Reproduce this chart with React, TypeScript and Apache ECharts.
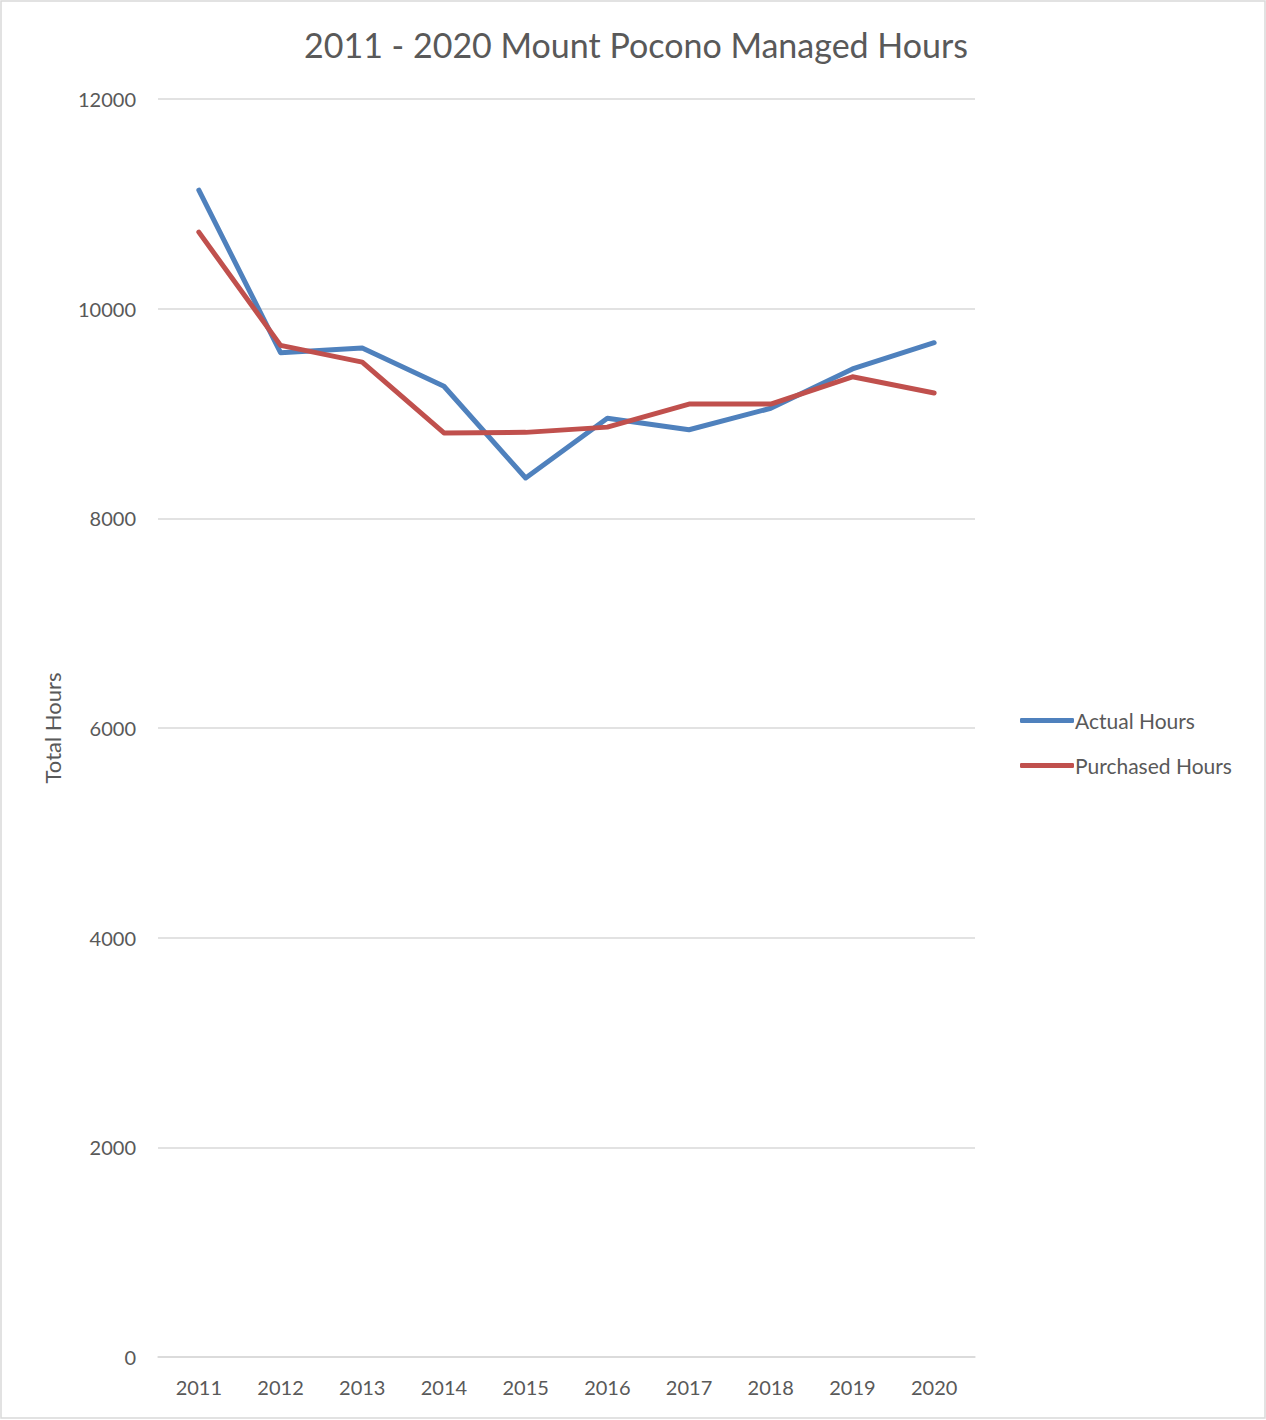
import React, { useEffect, useRef } from "react";
import * as echarts from "echarts";

const years = ["2011", "2012", "2013", "2014", "2015", "2016", "2017", "2018", "2019", "2020"];
const actualHours = [11130, 9580, 9625, 9260, 8385, 8955, 8845, 9050, 9425, 9675];
const purchasedHours = [10730, 9650, 9490, 8815, 8820, 8870, 9090, 9090, 9350, 9195];
const yTicks = { min: 0, max: 12000, interval: 2000 };

const FONT = "Lato, 'Open Sans', sans-serif";
const TEXT = "#595959";

export default function App() {
  const ref = useRef<HTMLDivElement>(null);
  useEffect(() => {
    if (!ref.current) return;
    const chart = echarts.init(ref.current, null, { renderer: "svg" });
    chart.setOption({
      animation: false,
      backgroundColor: "#ffffff",
      textStyle: { fontFamily: FONT },
      title: {
        text: "2011 - 2020 Mount Pocono Managed Hours",
        left: 631,
        textAlign: "center",
        top: 22,
        textStyle: { fontFamily: FONT, fontSize: 34, fontWeight: "normal", color: TEXT },
      },
      graphic: [
        {
          type: "rect",
          shape: { x: 1, y: 1, width: 1264, height: 1417 },
          style: { fill: "none", stroke: "#D9D9D9", lineWidth: 1.5 },
          silent: true,
        },
      ],
      legend: {
        orient: "vertical",
        left: 1015,
        top: 705,
        itemWidth: 54,
        itemHeight: 5,
        itemGap: 24,
        icon: "roundRect",
        textStyle: { fontFamily: FONT, fontSize: 21, color: TEXT, padding: [0, 0, 0, -4] },
        data: ["Actual Hours", "Purchased Hours"],
      },
      grid: { left: 158, right: 291, top: 99, bottom: 63, containLabel: false },
      xAxis: {
        type: "category",
        data: years,
        boundaryGap: true,
        axisLine: { show: true, lineStyle: { color: "#D9D9D9", width: 1.5 } },
        axisTick: { show: false },
        axisLabel: { fontFamily: FONT, fontSize: 20, color: TEXT, margin: 20 },
      },
      yAxis: {
        type: "value",
        min: yTicks.min,
        max: yTicks.max,
        interval: yTicks.interval,
        name: "Total Hours",
        nameLocation: "middle",
        nameGap: 95,
        nameRotate: 90,
        nameTextStyle: { fontFamily: FONT, fontSize: 22, color: TEXT },
        axisLine: { show: false },
        axisTick: { show: false },
        splitLine: { lineStyle: { color: "#D9D9D9", width: 1.5 } },
        axisLabel: {
          fontFamily: FONT,
          fontSize: 20,
          color: TEXT,
          margin: 22,
          formatter: (v: number) => String(v),
        },
      },
      series: [
        {
          name: "Actual Hours",
          type: "line",
          data: actualHours,
          symbol: "none",
          color: "#4F81BD",
          lineStyle: { width: 5, color: "#4F81BD", cap: "round", join: "round" },
        },
        {
          name: "Purchased Hours",
          type: "line",
          data: purchasedHours,
          symbol: "none",
          color: "#C0504D",
          lineStyle: { width: 5, color: "#C0504D", cap: "round", join: "round" },
        },
      ],
    });
    return () => chart.dispose();
  }, []);
  return (
    <div
      ref={ref}
      style={{ position: "absolute", left: 0, top: 0, width: 1266, height: 1420 }}
    />
  );
}
